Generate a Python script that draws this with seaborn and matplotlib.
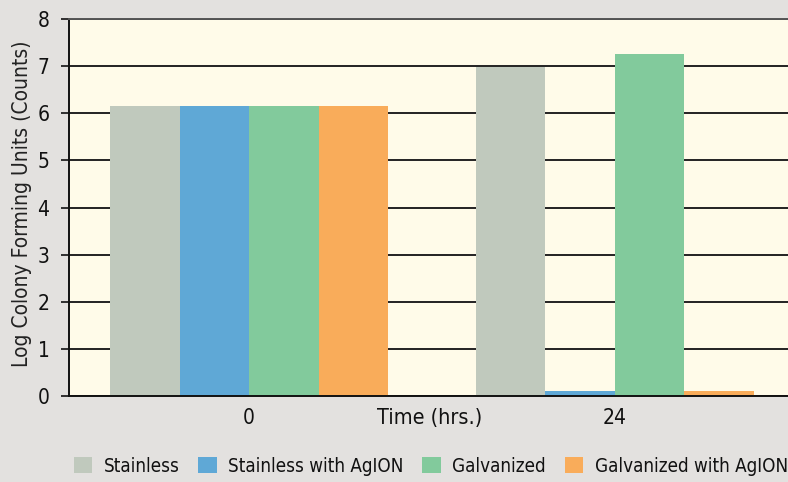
import matplotlib
matplotlib.use("Agg")
import matplotlib.pyplot as plt
import seaborn as sns
import pandas as pd

times = ["0", "24"]
series = ["Stainless", "Stainless with AgION", "Galvanized", "Galvanized with AgION"]
stainless = [6.16, 6.99]
stainless_agion = [6.16, 0.10]
galvanized = [6.16, 7.26]
galvanized_agion = [6.16, 0.10]
colors = ["#C0C9BD", "#5FA8D6", "#82CA9C", "#F9AC5A"]

rows = []
for name, vals in zip(series, [stainless, stainless_agion, galvanized, galvanized_agion]):
    for t, v in zip(times, vals):
        rows.append({"Time": t, "Series": name, "Value": v})
df = pd.DataFrame(rows)

sns.set_theme(style="white")
plt.rcParams['font.family'] = ['DejaVu Sans']
plt.rcParams['font.stretch'] = 'condensed'

fig = plt.figure(figsize=(7.88, 4.82), dpi=100)
fig.patch.set_facecolor("#E3E1DF")
ax = fig.add_axes([69/788, (482-396)/482, 1 - 69/788, (396-19)/482])
ax.set_facecolor("#FFFBE9")

sns.barplot(data=df, x="Time", y="Value", hue="Series", order=times, hue_order=series,
            palette=colors, saturation=1, width=0.76, ax=ax, legend=True, linewidth=0)

ax.set_ylim(0, 8)
ax.set_xlim(-0.492, 1.473)
ax.set_yticks(range(0, 9))
ax.yaxis.grid(True, color="#222222", linewidth=1.4)
ax.xaxis.grid(False)
ax.set_axisbelow(True)

for s in ["left", "bottom"]:
    ax.spines[s].set_color("#111111")
    ax.spines[s].set_linewidth(1.4)
ax.spines["top"].set_color("#555555")
ax.spines["top"].set_linewidth(1.4)
ax.spines["right"].set_visible(False)

ax.tick_params(axis="y", which="major", left=True, length=6, width=1.2, color="#111111",
               pad=8, labelsize=15, labelcolor="#111111")
ax.tick_params(axis="x", length=0, pad=9, labelsize=15, labelcolor="#111111")

ax.set_ylabel("Log Colony Forming Units (Counts)", fontsize=15, color="#222222")
ax.yaxis.set_label_coords(-0.051, 0.51)
ax.set_xlabel("Time (hrs.)", fontsize=15.5, color="#111111")
ax.xaxis.set_label_coords(0.502, -0.058)
ax.xaxis.label.set_verticalalignment("center")

handles, labels = ax.get_legend_handles_labels()
ax.get_legend().remove()
fig.legend(handles, labels, loc="center left", bbox_to_anchor=(66/788, 1 - 466/482), ncol=4,
           frameon=False, fontsize=13.5, handlelength=1.0, handleheight=1.0,
           columnspacing=1.0, handletextpad=0.6, labelcolor="#111111", borderaxespad=0)

fig.savefig("out.png", dpi=100, facecolor=fig.get_facecolor())
